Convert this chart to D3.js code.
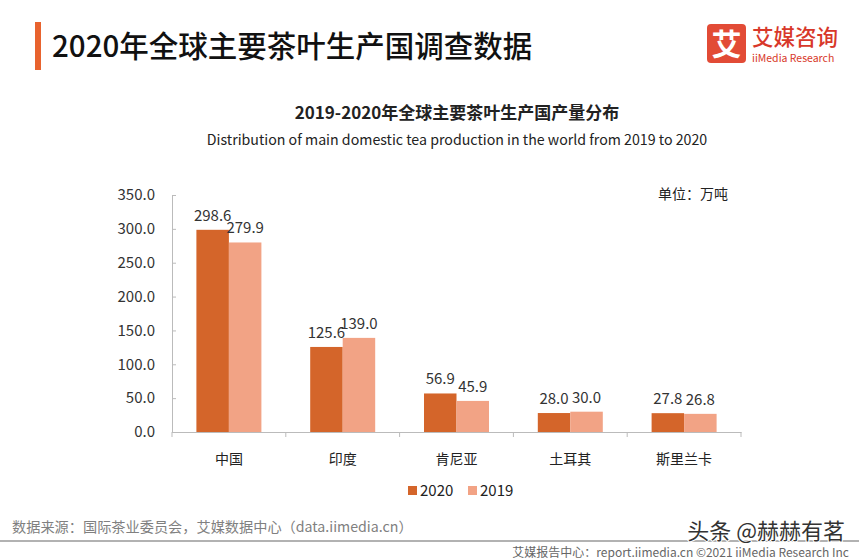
<!DOCTYPE html>
<html><head><meta charset="utf-8">
<script src="https://cdn.jsdelivr.net/npm/d3@7/dist/d3.min.js"></script>
<style>
body{margin:0;background:#fff;}
svg{display:block;font-family:"Noto Sans CJK SC","Noto Sans",sans-serif;}
</style></head>
<body>
<svg id="c" width="859" height="560"></svg>
<script>
const categories = ["中国","印度","肯尼亚","土耳其","斯里兰卡"];
const series = ["2020","2019"];
const values2020 = [298.6,125.6,56.9,28.0,27.8];
const values2019 = [279.9,139.0,45.9,30.0,26.8];
const yTicks = [0,50,100,150,200,250,300,350];
const colors = ["#D4652A","#F2A385"];

const svg = d3.select("#c");
svg.append("rect").attr("width",859).attr("height",560).attr("fill","#fff");

// header
svg.append("rect").attr("x",35).attr("y",22).attr("width",6).attr("height",48).attr("fill","#E8632E");
svg.append("text").attr("x",52).attr("y",57).attr("font-size",29.5).attr("font-weight",500).attr("fill","#111")
  .text("2020年全球主要茶叶生产国调查数据");
// logo
svg.append("rect").attr("x",707).attr("y",24).attr("width",39).attr("height",39).attr("rx",4).attr("fill","#E24B36");
svg.append("text").attr("x",726.5).attr("y",55).attr("text-anchor","middle").attr("font-size",30).attr("font-weight",700).attr("fill","#fff").text("艾");
svg.append("text").attr("x",752).attr("y",45).attr("font-size",21.5).attr("font-weight",500).attr("fill","#D8382A").text("艾媒咨询");
svg.append("text").attr("x",752).attr("y",62).attr("font-size",10.5).attr("fill","#D8382A").text("iiMedia Research");

// chart titles
svg.append("text").attr("x",457).attr("y",119).attr("text-anchor","middle").attr("font-size",17).attr("font-weight",700).attr("fill","#222")
  .text("2019-2020年全球主要茶叶生产国产量分布");
svg.append("text").attr("x",457).attr("y",145).attr("text-anchor","middle").attr("font-size",14.2).attr("fill","#222")
  .text("Distribution of main domestic tea production in the world from 2019 to 2020");
svg.append("text").attr("x",728).attr("y",199).attr("text-anchor","end").attr("font-size",14).attr("fill","#222").text("单位：万吨");

const x0 = d3.scaleBand().domain(categories).range([172,741]).paddingInner(0).paddingOuter(0);
const x1 = d3.scaleBand().domain(series).range([0,65]);
const y = d3.scaleLinear().domain([0,350]).range([432,195]);

// y axis
const yAxis = svg.append("g").attr("transform","translate(172,0)")
  .call(d3.axisLeft(y).tickValues(yTicks).tickFormat(d3.format(".1f")).tickSizeInner(-4).tickSizeOuter(0).tickPadding(17));
yAxis.select(".domain").attr("stroke","#bbb");
yAxis.selectAll(".tick line").attr("stroke","#bbb");
yAxis.selectAll(".tick text").attr("font-size",15).attr("fill","#333").attr("font-family","'Noto Sans CJK SC','Noto Sans',sans-serif");

// x axis
const xAxis = svg.append("g").attr("transform","translate(0,432)")
  .call(d3.axisBottom(x0).tickSize(0).tickPadding(22));
xAxis.select(".domain").attr("stroke","#bbb");
xAxis.selectAll(".tick text").attr("font-size",14).attr("fill","#222").attr("font-family","'Noto Sans CJK SC','Noto Sans',sans-serif");
// boundary ticks
const bounds = categories.map(c=>x0(c)).concat([x0.range()[1]]);
svg.append("g").selectAll("line").data(bounds).join("line")
  .attr("x1",d=>d).attr("x2",d=>d).attr("y1",432).attr("y2",437).attr("stroke","#bbb");

const data = categories.map((c,i)=>({c, vals:[values2020[i],values2019[i]]}));
const groups = svg.append("g").selectAll("g").data(data).join("g")
  .attr("transform",d=>`translate(${x0(d.c)+(x0.bandwidth()-65)/2},0)`);
groups.selectAll("rect").data(d=>d.vals.map((v,j)=>({s:series[j],v,j}))).join("rect")
  .attr("x",d=>x1(d.s)).attr("width",x1.bandwidth()).attr("y",d=>y(d.v)).attr("height",d=>y(0)-y(d.v))
  .attr("fill",d=>colors[d.j]);
groups.selectAll("text").data(d=>d.vals.map((v,j)=>({s:series[j],v,j}))).join("text")
  .attr("x",d=>x1(d.s)+x1.bandwidth()/2).attr("y",d=>y(d.v)-9)
  .attr("text-anchor","middle").attr("font-size",15).attr("fill","#333").text(d=>d.v.toFixed(1));

// legend
const leg = svg.append("g").attr("transform","translate(408,484)");
series.forEach((s,i)=>{
  const g = leg.append("g").attr("transform",`translate(${i*60},0)`);
  g.append("rect").attr("width",9).attr("height",9).attr("y",2).attr("fill",colors[i]);
  g.append("text").attr("x",12).attr("y",12).attr("font-size",15).attr("fill","#222").text(s);
});

// footer
svg.append("text").attr("x",12).attr("y",532).attr("font-size",14.2).attr("fill","#808080")
  .text("数据来源：国际茶业委员会，艾媒数据中心（data.iimedia.cn）");
svg.append("line").attr("x1",0).attr("x2",859).attr("y1",541).attr("y2",541).attr("stroke","#999").attr("stroke-width",1.5);
svg.append("text").attr("x",849).attr("y",557).attr("text-anchor","end").attr("font-size",12).attr("fill","#666")
  .text("艾媒报告中心：report.iimedia.cn  ©2021  iiMedia Research  Inc");
svg.append("text").attr("x",845).attr("y",539).attr("text-anchor","end").attr("font-size",22).attr("fill","#333")
  .attr("stroke","#fff").attr("stroke-width",2).attr("paint-order","stroke").text("头条 @赫赫有茗");
</script>
</body></html>
